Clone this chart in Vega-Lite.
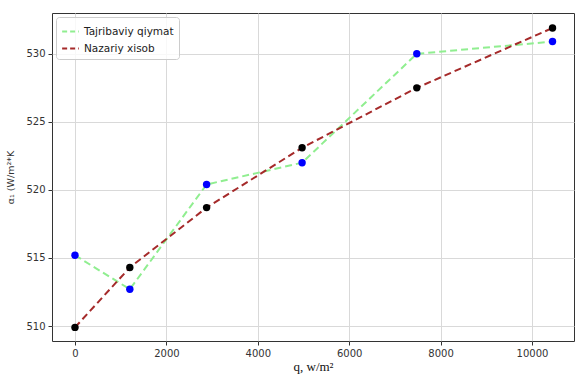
{
  "$schema": "https://vega.github.io/schema/vega-lite/v6.json",
  "width": 522,
  "height": 328,
  "autosize": {"type": "none"},
  "padding": {"left": 52, "top": 13, "right": 2, "bottom": 35},
  "background": "white",
  "config": {
    "view": {"stroke": "#333333", "strokeWidth": 1},
    "axis": {
      "grid": true, "gridColor": "#d9d9d9", "gridWidth": 1,
      "domain": false, "tickColor": "#333333", "tickSize": 4,
      "labelFont": "DejaVu Sans", "labelFontSize": 10, "labelColor": "#333333",
      "labelPadding": 3
    }
  },
  "data": {"values": [
    {"q": 0, "alpha": 515.2, "series": "Tajribaviy qiymat"},
    {"q": 1200, "alpha": 512.7, "series": "Tajribaviy qiymat"},
    {"q": 2880, "alpha": 520.4, "series": "Tajribaviy qiymat"},
    {"q": 4970, "alpha": 522.0, "series": "Tajribaviy qiymat"},
    {"q": 7480, "alpha": 530.0, "series": "Tajribaviy qiymat"},
    {"q": 10450, "alpha": 530.9, "series": "Tajribaviy qiymat"},
    {"q": 0, "alpha": 509.9, "series": "Nazariy xisob"},
    {"q": 1200, "alpha": 514.3, "series": "Nazariy xisob"},
    {"q": 2880, "alpha": 518.7, "series": "Nazariy xisob"},
    {"q": 4970, "alpha": 523.1, "series": "Nazariy xisob"},
    {"q": 7480, "alpha": 527.5, "series": "Nazariy xisob"},
    {"q": 10450, "alpha": 531.9, "series": "Nazariy xisob"}
  ]},
  "encoding": {
    "x": {
      "field": "q", "type": "quantitative",
      "scale": {"domain": [-503, 10920], "nice": false, "zero": false},
      "axis": {"values": [0, 2000, 4000, 6000, 8000, 10000], "format": "d",
        "title": "q, w/m²", "titleFont": "Liberation Serif", "titleFontSize": 13,
        "titleFontWeight": "normal", "titleColor": "#111111", "titlePadding": 2}
    },
    "y": {
      "field": "alpha", "type": "quantitative",
      "scale": {"domain": [508.9, 533.0], "nice": false, "zero": false},
      "axis": {"values": [510, 515, 520, 525, 530],
        "title": "α₁ (W/m²*K", "titleFont": "DejaVu Sans", "titleFontSize": 9.5,
        "titleFontWeight": "normal", "titleColor": "#333333", "titlePadding": 10}
    }
  },
  "layer": [
    {
      "mark": {"type": "line", "strokeDash": [7, 4], "strokeWidth": 2},
      "encoding": {
        "color": {
          "field": "series", "type": "nominal",
          "scale": {"domain": ["Tajribaviy qiymat", "Nazariy xisob"], "range": ["#90ee90", "#a52a2a"]},
          "legend": {
            "title": null, "orient": "top-left", "offset": 4,
            "symbolType": "stroke", "symbolStrokeWidth": 2, "symbolDash": [5, 3], "symbolSize": 280,
            "labelFont": "DejaVu Sans", "labelFontSize": 10.5, "labelColor": "#222222",
            "fillColor": "rgba(255,255,255,0.8)", "strokeColor": "#cccccc", "cornerRadius": 3,
            "padding": 5, "rowPadding": 2
          }
        },
        "order": {"field": "q"}
      }
    },
    {
      "mark": {"type": "point", "filled": true, "size": 55, "opacity": 1},
      "encoding": {
        "fill": {
          "field": "series", "type": "nominal",
          "scale": {"domain": ["Tajribaviy qiymat", "Nazariy xisob"], "range": ["#0000ff", "#000000"]},
          "legend": null
        }
      }
    }
  ],
  "resolve": {"scale": {"color": "independent", "fill": "independent"}}
}
